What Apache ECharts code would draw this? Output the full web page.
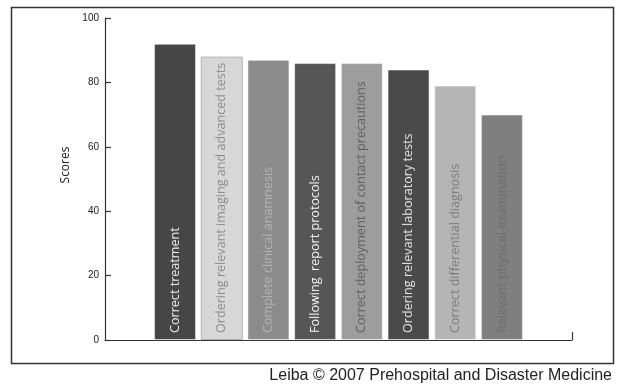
<!DOCTYPE html>
<html>
<head>
<meta charset="utf-8">
<script src="https://cdn.jsdelivr.net/npm/echarts@6/dist/echarts.min.js"></script>
<style>html,body{margin:0;padding:0;background:#fff;}#c{width:620px;height:385px;}</style>
</head>
<body>
<div id="c"></div>
<script>
const categories = [
  "Correct treatment",
  "Ordering relevant imaging and advanced tests",
  "Complete clinical anamnesis",
  "Following  report protocols",
  "Correct deployment of contact precautions",
  "Ordering relevant laboratory tests",
  "Correct differential diagnosis",
  "Relevant physical examination"
];
const scores = [92, 88, 87, 86, 86, 84, 79, 70];
const yTicks = [0, 20, 40, 60, 80, 100];
const caption = "Leiba \u00A9 2007 Prehospital and Disaster Medicine";

const barFill = ["#464646", "#d7d7d7", "#8c8c8c", "#565656", "#9d9d9d", "#4a4a4a", "#b5b5b5", "#7f7f7f"];
const textFill = ["#eeeeee", "#8c8c8c", "#b4b4b4", "#f2f2f2", "#5e5e5e", "#e4e4e4", "#7c7c7c", "#6c6c6c"];

const chart = echarts.init(document.getElementById('c'), null, {renderer: 'canvas'});
const data = scores.map((v, i) => ({
  value: [i, v],
  name: categories[i],
  itemStyle: {color: barFill[i], borderColor: i === 1 ? '#b0b0b0' : 'rgba(255,255,255,0.5)', borderWidth: 1},
  label: {color: textFill[i]}
}));

chart.setOption({
  animation: false,
  backgroundColor: '#fff',
  grid: {left: 105, right: 48, top: 18, bottom: 45},
  xAxis: {
    type: 'value', min: -1.5, max: 8.5,
    axisLine: {show: true, onZero: false, lineStyle: {color: '#333', width: 1.2}},
    axisTick: {show: true, inside: true, length: 8, customValues: [8.5], lineStyle: {color: '#333', width: 1.2}},
    axisLabel: {show: false},
    splitLine: {show: false}
  },
  yAxis: {
    type: 'value', min: 0, max: 100, interval: 20,
    name: 'Scores', nameLocation: 'middle', nameRotate: 90, nameGap: 25,
    nameTextStyle: {fontFamily: 'Open Sans', fontSize: 12, color: '#222', padding: [8, 0, 0, 28]},
    axisLine: {show: true, onZero: false, lineStyle: {color: '#333', width: 1.2}},
    axisTick: {show: true, inside: true, length: 6, lineStyle: {color: '#333', width: 1.2}},
    axisLabel: {fontFamily: 'Liberation Sans', fontSize: 10, color: '#222', margin: 6,
      formatter: v => yTicks.includes(v) ? String(v) : ''},
    splitLine: {show: false}
  },
  series: [{
    type: 'bar',
    barWidth: 42,
    data: data,
    label: {
      show: true,
      position: 'insideBottom',
      rotate: 90,
      align: 'left',
      verticalAlign: 'middle',
      distance: 7,
      fontFamily: 'Open Sans',
      fontSize: 12.6,
      formatter: p => p.name
    }
  }],
  graphic: [
    {type: 'rect', shape: {x: 11.5, y: 7.5, width: 602, height: 356},
     style: {fill: 'none', stroke: '#333', lineWidth: 1.5}, silent: true},
    {type: 'text', right: 8, top: 368,
     style: {text: caption, font: '16px "Liberation Sans", Arial, sans-serif', fill: '#222'}}
  ]
});
</script>
</body>
</html>
